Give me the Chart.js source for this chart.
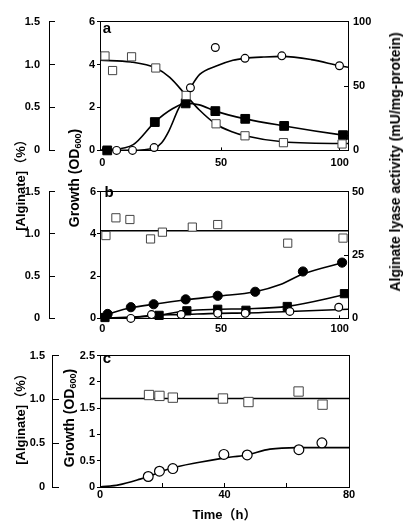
<!DOCTYPE html>
<html><head><meta charset="utf-8">
<script src="https://cdn.jsdelivr.net/npm/chart.js@4.4.1/dist/chart.umd.min.js"></script>
<style>
html,body{margin:0;padding:0;background:#fff;}
#fig{position:relative;width:406px;height:530px;overflow:hidden;background:#fff;font-family:'Liberation Sans',Arial,'Noto Sans CJK JP',sans-serif;}
canvas{position:absolute;left:0;}
.t{position:absolute;white-space:nowrap;font-weight:bold;color:#000;transform:translate(-50%,-50%) rotate(-90deg);line-height:1;}
.t sub{font-size:9px;vertical-align:-2px;}
.p{position:absolute;font-weight:bold;font-size:15px;color:#000;line-height:1;transform:translate(-50%,-50%);}
</style></head><body>
<div id="fig">
<canvas id="cA" width="406" height="172" style="top:0px"></canvas>
<canvas id="cB" width="406" height="170" style="top:170px"></canvas>
<canvas id="cC" width="406" height="195" style="top:335px"></canvas>
<div class="t" style="left:20px;top:182px;font-size:13px">[Alginate]（%）</div>
<div class="t" style="left:75px;top:178px;font-size:14px">Growth (OD<sub>600</sub>)</div>
<div class="t" style="left:395px;top:162px;font-size:14px">Alginate lyase activity (mU/mg-protein)</div>
<div class="t" style="left:20px;top:416px;font-size:13px">[Alginate]（%）</div>
<div class="t" style="left:70px;top:418px;font-size:14px">Growth (OD<sub>600</sub>)</div>
<div class="p" style="left:107px;top:27px">a</div>
<div class="p" style="left:109px;top:191px">b</div>
<div class="p" style="left:107px;top:357px">c</div>
</div>
<script>
// ---------- Panel a ----------
const tA_alg = [1.1, 4.3, 12.3, 22.5, 35.3, 47.9, 60.1, 76.3, 101];
const algA   = [1.10, 0.93, 1.09, 0.96, 0.64, 0.31, 0.17, 0.09, 0.075];
const tA_algFit = [-1, 12, 22.5, 28.4, 35.3, 40.9, 47.9, 54.9, 60.1, 75.9, 101, 103.5];
const algAFit   = [1.05, 1.03, 0.96, 0.85, 0.64, 0.47, 0.305, 0.215, 0.17, 0.10, 0.08, 0.08];
const tA_gr = [2.05, 22.1, 35.1, 47.6, 60.2, 76.6, 101.4];
const grA   = [0.0, 1.32, 2.19, 1.83, 1.47, 1.14, 0.71];
const tA_grFit = [-1, 2, 13, 22.1, 29.7, 35.1, 40.9, 47.6, 60.2, 76.6, 101.4, 103.5];
const grAFit   = [0.0, 0.02, 0.27, 1.32, 1.95, 2.19, 2.12, 1.83, 1.47, 1.14, 0.71, 0.68];
const tA_ly = [6.0, 12.7, 21.8, 37.1, 47.6, 60.1, 75.6, 99.9];
const lyA   = [0, 0, 2.2, 48.6, 79.9, 71.5, 73.4, 65.7];
const tA_lyFit = [-1, 12, 21.8, 25, 28, 32, 37.1, 41, 48, 55, 60.1, 68, 75.6, 88, 100, 103.5];
const lyAFit   = [0, 0, 1.8, 6, 15, 32, 48.6, 59, 65.5, 70, 71.5, 72.5, 73, 70.5, 65.7, 64.5];

// ---------- Panel b ----------
const tB_alg = [1.5, 5.7, 11.6, 20.3, 25.3, 37.9, 48.6, 78.1, 101.4];
const algB   = [0.98, 1.19, 1.17, 0.94, 1.02, 1.08, 1.11, 0.89, 0.95];
const tB_algFit = [-1, 103.5];
const algBFit   = [1.036, 1.036];
const tB_gr = [2.2, 12.0, 21.6, 35.1, 48.6, 64.4, 84.5, 101];
const grB   = [0.21, 0.53, 0.67, 0.90, 1.07, 1.26, 2.22, 2.64];
const tB_grFit = [0.4, 12, 21.6, 35.1, 48.6, 64.4, 75, 84.5, 103];
const grBFit   = [0.15, 0.5, 0.67, 0.88, 1.05, 1.26, 1.6, 2.1, 2.69];
const tB_sq = [1.1, 23.9, 35.6, 48.6, 60.5, 77.9, 102];
const sqB   = [0.35, 1.2, 3.0, 3.6, 3.2, 4.7, 9.75];
const tB_sqFit = [-1, 23.5, 35.4, 48.6, 60.5, 77.9, 103.5];
const sqBFit   = [0, 1.2, 3.0, 3.6, 3.8, 4.75, 9.6];
const tB_oc = [12.0, 20.7, 33.2, 48.6, 60.2, 79, 99.6];
const ocB   = [0, 1.5, 1.5, 2.0, 2.0, 2.75, 4.4];
const tB_ocFit = [-1, 12, 20.7, 33.2, 48.6, 60.5, 78.7, 103.5];
const ocBFit   = [0, 0.25, 1.2, 1.5, 2.0, 2.15, 2.75, 3.6];

// ---------- Panel c ----------
const tC_alg = [15.75, 19.1, 23.4, 39.5, 47.7, 63.8, 71.5];
const algC   = [1.05, 1.04, 1.02, 1.01, 0.97, 1.09, 0.94];
const tC_algFit = [0, 80];
const algCFit   = [1.01, 1.01];
const tC_gr = [15.5, 19.1, 23.4, 39.8, 47.3, 63.9, 71.3];
const grC   = [0.20, 0.30, 0.35, 0.62, 0.61, 0.71, 0.84];
const tC_grFit = [0, 6, 12.9, 16, 22.5, 32, 39.6, 47, 54.6, 63.2, 80];
const grCFit   = [0, 0.04, 0.15, 0.21, 0.35, 0.47, 0.55, 0.61, 0.72, 0.75, 0.75];

// ---------- Tick labels ----------
const ticksAlg = [0, 0.5, 1.0, 1.5];
const ticksOD_AB = [0, 2, 4, 6];
const ticksLy_A = [0, 50, 100];
const ticksLy_B = [0, 25, 50];
const ticksOD_C = [0, 0.5, 1, 1.5, 2, 2.5];
const ticksX_AB = [0, 50, 100];
const ticksX_C = [0, 20, 40, 60, 80];
const labelsX_C = [0, 40, 80];

const FAM = "'Liberation Sans', Arial, 'Noto Sans CJK JP', sans-serif";
Chart.defaults.font.family = FAM;
Chart.defaults.color = '#000';
const TF = {family: FAM, size: 11, weight: 'bold'};

function pts(xs, ys) { return xs.map((x, i) => ({x: x, y: ys[i]})); }
function fixed(vals) { return s => { s.ticks = vals.map(v => ({value: v})); }; }

function yAxis(pos, min, max, vals, tl, pad, width, weight, fmt) {
  return {
    type: 'linear', position: pos, min: min, max: max, weight: weight,
    afterBuildTicks: fixed(vals),
    afterFit: s => { s.width = width; },
    grid: {display: true, drawOnChartArea: false, drawTicks: true, tickLength: tl, color: '#000', lineWidth: 1},
    border: {display: true, color: '#000', width: 1},
    ticks: {font: TF, color: '#000', padding: pad, callback: fmt || (v => String(v))}
  };
}
function xAxis(min, max, vals, tl, pad, height, fmt, title) {
  const o = {
    type: 'linear', position: 'bottom', min: min, max: max,
    afterBuildTicks: fixed(vals),
    afterFit: s => { s.height = height; },
    grid: {display: true, drawOnChartArea: false, drawTicks: true, tickLength: tl, color: '#000', lineWidth: 1},
    border: {display: true, color: '#000', width: 1},
    ticks: {font: TF, color: '#000', padding: pad, maxRotation: 0, autoSkip: false, callback: fmt || (v => String(v))}
  };
  if (title) o.title = {display: true, text: title, font: {family: FAM, size: 13, weight: 'bold'}, color: '#000', padding: {top: 0, bottom: 7}};
  return o;
}
const topBorder = {
  type: 'linear', position: 'top', min: 0, max: 1,
  afterFit: s => { s.height = 0; },
  ticks: {display: false}, grid: {display: false},
  border: {display: true, color: '#000', width: 1}
};
function rightBorder(width) {
  return {
    type: 'linear', position: 'right', min: 0, max: 1,
    afterFit: s => { s.width = width; },
    ticks: {display: false}, grid: {display: false},
    border: {display: true, color: '#000', width: 1}
  };
}
const algFmt = v => (v === 0 ? '0' : v.toFixed(1));

function openSq(data, yID, r) {
  return {data: data, yAxisID: yID, xAxisID: 'x', showLine: false, pointStyle: 'rect', pointRadius: r || 5.6,
    pointBackgroundColor: '#fff', pointBorderColor: '#444', pointBorderWidth: 1, clip: false, order: 1};
}
function fillSq(data, yID, r) {
  return {data: data, yAxisID: yID, xAxisID: 'x', showLine: false, pointStyle: 'rect', pointRadius: r || 6,
    pointBackgroundColor: '#000', pointBorderColor: '#000', pointBorderWidth: 1, clip: false, order: 1};
}
function openCi(data, yID, r) {
  return {data: data, yAxisID: yID, xAxisID: 'x', showLine: false, pointStyle: 'circle', pointRadius: r || 4,
    pointBackgroundColor: '#fff', pointBorderColor: '#000', pointBorderWidth: 1.2, clip: false, order: 0};
}
function fillCi(data, yID, r) {
  return {data: data, yAxisID: yID, xAxisID: 'x', showLine: false, pointStyle: 'circle', pointRadius: r || 4.5,
    pointBackgroundColor: '#000', pointBorderColor: '#000', pointBorderWidth: 1, clip: false, order: 1};
}
function curve(data, yID) {
  return {data: data, yAxisID: yID, xAxisID: 'x', showLine: true, pointRadius: 0, borderColor: '#000',
    borderWidth: 1.6, cubicInterpolationMode: 'monotone', fill: false, order: 3};
}
const common = {
  responsive: false, animation: false, events: [],
  plugins: {legend: {display: false}, tooltip: {enabled: false}, title: {display: false}}
};

// Panel a
new Chart(document.getElementById('cA'), {
  type: 'line',
  data: {datasets: [
    curve(pts(tA_algFit, algAFit), 'yAlg'),
    curve(pts(tA_grFit, grAFit), 'yOD'),
    curve(pts(tA_lyFit, lyAFit), 'yR'),
    openSq(pts(tA_alg, algA), 'yAlg', 5.8),
    fillSq(pts(tA_gr, grA), 'yOD', 6.2),
    openCi(pts(tA_ly, lyA), 'yR', 3.9)
  ]},
  options: Object.assign({}, common, {
    layout: {padding: {top: 15, bottom: 0, left: 0, right: 0}},
    scales: {
      x: xAxis(-1, 103.5, ticksX_AB, -3, 9, 19),
      xTop: topBorder,
      yAlg: yAxis('left', 0, 1.5, ticksAlg, -6, 15, 49, 10, algFmt),
      yOD: yAxis('left', 0, 6, ticksOD_AB, 3, 2, 51, 0),
      yR: yAxis('right', 0, 100, ticksLy_A, -4, 9, 58, 0)
    }
  })
});

// Panel b
new Chart(document.getElementById('cB'), {
  type: 'line',
  data: {datasets: [
    curve(pts(tB_algFit, algBFit), 'yAlg'),
    curve(pts(tB_grFit, grBFit), 'yOD'),
    curve(pts(tB_sqFit, sqBFit), 'yR'),
    curve(pts(tB_ocFit, ocBFit), 'yR'),
    openSq(pts(tB_alg, algB), 'yAlg', 5.8),
    fillCi(pts(tB_gr, grB), 'yOD', 4.6),
    fillSq(pts(tB_sq, sqB), 'yR', 5.8),
    openCi(pts(tB_oc, ocB), 'yR', 3.9)
  ]},
  options: Object.assign({}, common, {
    layout: {padding: {top: 10, bottom: 0, left: 0, right: 0}},
    scales: {
      x: xAxis(-1, 103.5, ticksX_AB, -3, 7, 20),
      xTop: topBorder,
      yAlg: yAxis('left', 0, 1.5, ticksAlg, -6, 15, 49, 10, algFmt),
      yOD: yAxis('left', 0, 6, ticksOD_AB, 3, 1, 51, 0),
      yR: yAxis('right', 0, 50, ticksLy_B, -4, 8, 58, 0)
    }
  })
});

// Panel c
new Chart(document.getElementById('cC'), {
  type: 'line',
  data: {datasets: [
    curve(pts(tC_algFit, algCFit), 'yAlg'),
    curve(pts(tC_grFit, grCFit), 'yOD'),
    openSq(pts(tC_alg, algC), 'yAlg', 6.6),
    openCi(pts(tC_gr, grC), 'yOD', 4.9)
  ]},
  options: Object.assign({}, common, {
    layout: {padding: {top: 12, bottom: 0, left: 0, right: 0}},
    scales: {
      x: xAxis(0, 80, ticksX_C, -4, 5, 43, v => (labelsX_C.indexOf(v) >= 0 ? String(v) : ''), 'Time（h）'),
      xTop: topBorder,
      yAlg: yAxis('left', 0, 1.5, ticksAlg, -7, 14, 52, 10, algFmt),
      yOD: yAxis('left', 0, 2.5, ticksOD_C, 3, 2, 48, 0),
      yR: rightBorder(57)
    }
  })
});
</script>
</body></html>
